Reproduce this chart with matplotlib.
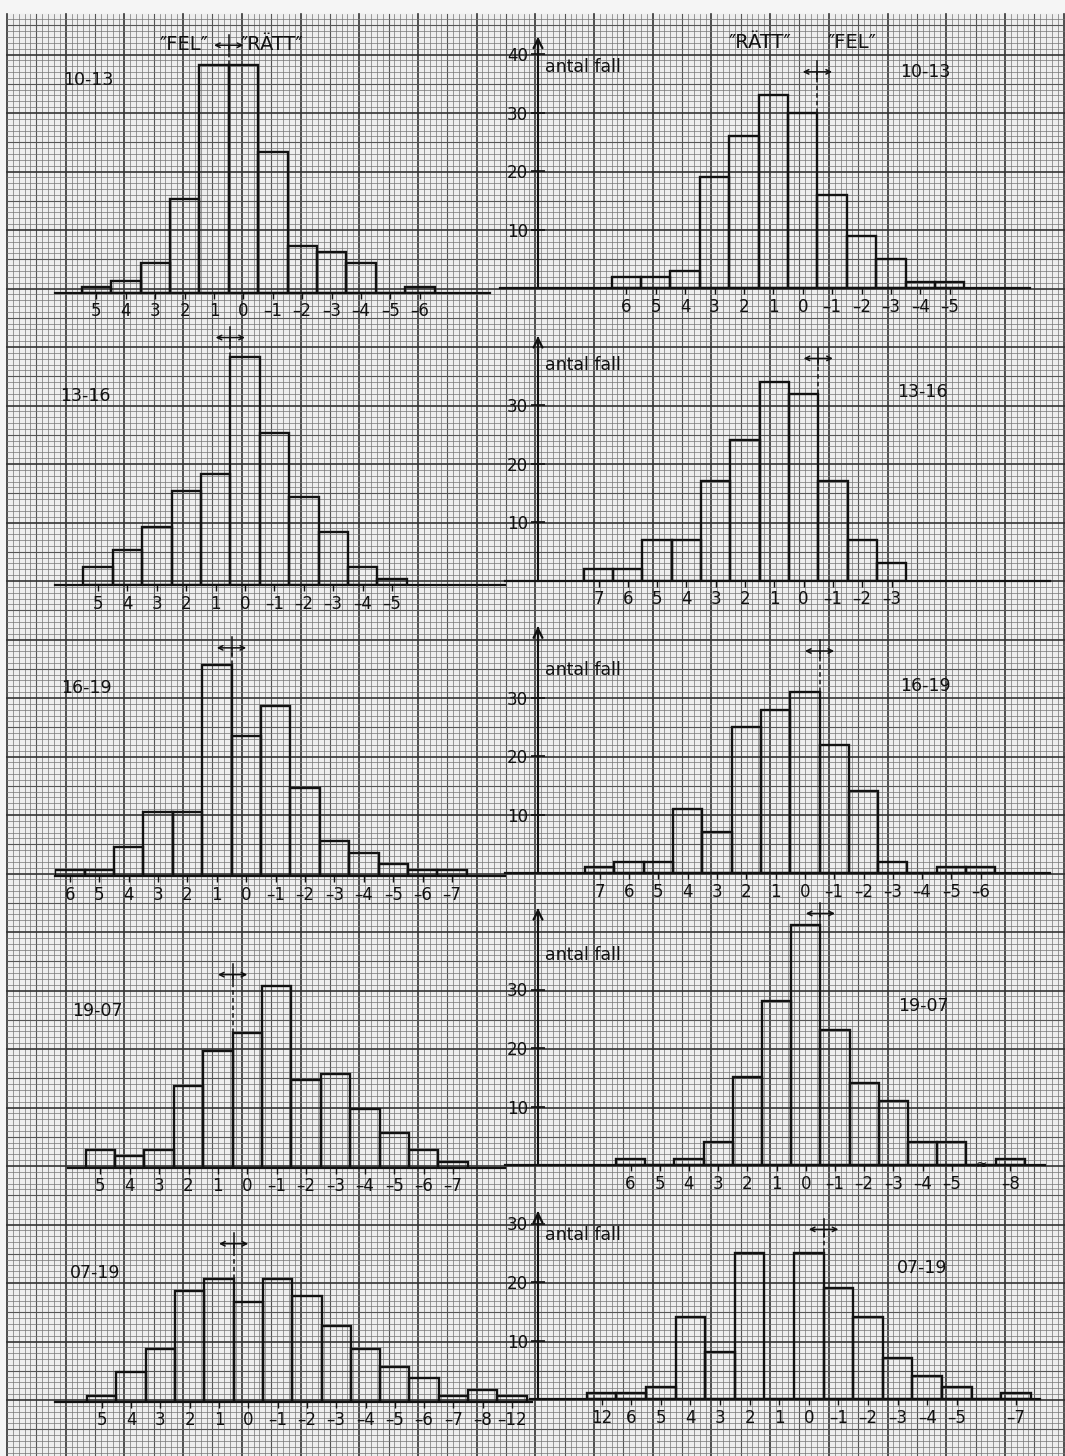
import numpy as np
import matplotlib
matplotlib.use("Agg")
import matplotlib.pyplot as plt

plt.rcParams['font.family'] = ['DejaVu Sans']

W, H = 1065, 1456

# ---- data ----
periods = ["10-13", "13-16", "16-19", "19-07", "07-19"]

# left column, "FEL" <-|-> "RÄTT"
left_labels = [
    ["5", "4", "3", "2", "1", "0", "-1", "-2", "-3", "-4", "-5", "-6"],
    ["5", "4", "3", "2", "1", "0", "-1", "-2", "-3", "-4", "-5"],
    ["6", "5", "4", "3", "2", "1", "0", "-1", "-2", "-3", "-4", "-5", "-6", "-7"],
    ["5", "4", "3", "2", "1", "0", "-1", "-2", "-3", "-4", "-5", "-6", "-7"],
    ["5", "4", "3", "2", "1", "0", "-1", "-2", "-3", "-4", "-5", "-6", "-7", "-8", "-12"],
]
left_counts = [
    [1, 2, 5, 16, 39, 39, 24, 8, 7, 5, 0, 1],
    [3, 6, 10, 16, 19, 39, 26, 15, 9, 3, 1],
    [1, 1, 5, 11, 11, 36, 24, 29, 15, 6, 4, 2, 1, 1],
    [3, 2, 3, 14, 20, 23, 31, 15, 16, 10, 6, 3, 1],
    [1, 5, 9, 19, 21, 17, 21, 18, 13, 9, 6, 4, 1, 2, 1],
]
left_mark_x = [4.5, 4.5, 5.5, 4.5, 4.5]
left_mark_y = [42.3, 42.3, 39.0, 33.0, 27.0]

# right column, "RÄTT"  "FEL"
right_labels = [
    ["6", "5", "4", "3", "2", "1", "0", "-1", "-2", "-3", "-4", "-5"],
    ["7", "6", "5", "4", "3", "2", "1", "0", "-1", "-2", "-3"],
    ["7", "6", "5", "4", "3", "2", "1", "0", "-1", "-2", "-3", "-4", "-5", "-6"],
    ["6", "5", "4", "3", "2", "1", "0", "-1", "-2", "-3", "-4", "-5", "", "-8"],
    ["12", "6", "5", "4", "3", "2", "1", "0", "-1", "-2", "-3", "-4", "-5", "", "-7"],
]
right_counts = [
    [2, 2, 3, 19, 26, 33, 30, 16, 9, 5, 1, 1],
    [2, 2, 7, 7, 17, 24, 34, 32, 17, 7, 3],
    [1, 2, 2, 11, 7, 25, 28, 31, 22, 14, 2, 0, 1, 1],
    [1, 0, 1, 4, 15, 28, 41, 23, 14, 11, 4, 4, 0, 1],
    [1, 1, 2, 14, 8, 25, 0, 25, 19, 14, 7, 4, 2, 0, 1],
]
right_mark_x = [6.5, 7.5, 7.5, 6.5, 7.5]
right_mark_y = [37.0, 38.0, 38.0, 43.0, 29.0]
right_yticks = [[10, 20, 30, 40], [10, 20, 30], [10, 20, 30], [10, 20, 30], [10, 20, 30]]

# ---- layout on the paper (pixels) ----
SY = 5.85          # pixels per count (one small square)
left_x0 = [96.4, 98.0, 69.8, 100.3, 101.8]
left_bw = [29.4, 29.4, 29.4, 29.4, 29.3]
left_base = [292.7, 585.0, 876.0, 1167.7, 1401.7]
left_span = [(55, 490), (55, 505), (55, 505), (68, 505), (55, 532)]
right_x0 = [626.3, 598.5, 599.8, 630.6, 601.6]
right_bw = [29.4, 29.3, 29.3, 29.2, 29.6]
right_base = [288.3, 580.7, 873.3, 1165.0, 1399.0]
right_span = [(500, 1030), (505, 1050), (505, 1050), (505, 1045), (530, 1040)]
right_top = [42.7, 41.5, 41.9, 43.6, 31.8]
AXIS_X = 538
INK = '#111111'

fig = plt.figure(figsize=(W / 100, H / 100), dpi=100)
fig.patch.set_facecolor('#f5f5f5')

# graph paper
bg = fig.add_axes([0, 0, 1, 1])
bg.set_xlim(0, W)
bg.set_ylim(H, 0)
bg.axis('off')
bg.add_patch(plt.Rectangle((7, 14), W, H, color='#eeeeee', zorder=0))


def paper_style(i):
    if i % 10 == 0:
        return 1.2, '#333333'
    if i % 5 == 0:
        return 0.8, '#555555'
    return 0.5, '#747474'


for i, x in enumerate(np.arange(7, W + 1, 5.87)):
    lw, c = paper_style(i)
    bg.plot([x, x], [14, H], color=c, lw=lw, zorder=1)
for i in range(-47, 200):
    y = 288.5 + i * SY
    if y < 14 or y > H:
        continue
    lw, c = paper_style(i)
    bg.plot([7, W], [y, y], color=c, lw=lw, zorder=1)

# headers
hdr = dict(fontsize=14, color=INK, ha='center', va='center')
bg.text(184, 45, '″FEL″', **hdr)
bg.text(272, 45, '″RÄTT″', **hdr)
bg.text(760, 42, '″RÄTT″', **hdr)
bg.text(852, 42, '″FEL″', **hdr)

left_title_xy = [(88, 80), (85, 396), (86, 688), (97, 1011), (95, 1273)]
right_title_xy = [(925, 72), (922, 392), (925, 686), (923, 1006), (922, 1268)]
antal_y = [67, 365, 670, 955, 1235]
for k in range(5):
    bg.text(*left_title_xy[k], periods[k], fontsize=12.5, color=INK, ha='center', va='center')
    bg.text(*right_title_xy[k], periods[k], fontsize=12.5, color=INK, ha='center', va='center')
    bg.text(545, antal_y[k], 'antal fall', fontsize=12.5, color=INK, ha='left', va='center')


def panel(L, R, base, x0, bw, labels, counts, mx, my, yticks=None, top=None):
    ax = fig.add_axes([L / W, 1 - base / H, (R - L) / W, 48 * SY / H])
    ax.patch.set_alpha(0)
    ax.set_xlim((L - x0) / bw, (R - x0) / bw)
    ax.set_ylim(0, 48)
    n = len(counts)
    ax.bar(np.arange(n), counts, width=1, fill=False, edgecolor=INK, lw=1.7, zorder=3)
    for s in ['top', 'right', 'left']:
        ax.spines[s].set_visible(False)
    ax.spines['bottom'].set_linewidth(1.6)
    ax.spines['bottom'].set_color(INK)
    idx = [i for i, t in enumerate(labels) if t]
    ax.set_xticks(idx)
    ax.set_xticklabels([labels[i].replace('-', '\u2013') for i in idx])
    ax.tick_params(axis='x', direction='out', length=4, width=1, colors=INK,
                   labelsize=12, pad=3)
    if yticks is None:
        ax.set_yticks([])
    else:
        xa = (AXIS_X - x0) / bw
        sp = ax.spines['left']
        sp.set_visible(True)
        sp.set_position(('data', xa))
        sp.set_bounds(0, top)
        sp.set_linewidth(1.5)
        sp.set_color(INK)
        ax.set_yticks(yticks)
        ax.tick_params(axis='y', direction='inout', length=10, width=1.2,
                       colors=INK, labelsize=12, pad=2)
        ax.annotate('', xy=(xa, top + 0.3), xytext=(xa, top - 2.5),
                    arrowprops=dict(arrowstyle='->', lw=1.6, color=INK,
                                    mutation_scale=16, shrinkA=0, shrinkB=0))
    # median marker: short cross with a double arrow and a dashed drop line
    lo = max(counts[int(mx - 0.5)], counts[int(mx + 0.5)])
    ax.plot([mx, mx], [lo, my], color=INK, lw=1.1, ls=(0, (3, 2)), zorder=4)
    ax.plot([mx, mx], [my - 1.2, my + 1.8], color=INK, lw=1.1, zorder=4)
    ax.annotate('', xy=(mx - 0.5, my), xytext=(mx + 0.5, my),
                arrowprops=dict(arrowstyle='<->', lw=1.1, color=INK,
                                mutation_scale=8, shrinkA=0, shrinkB=0))
    return ax


for k in range(5):
    panel(*left_span[k], left_base[k], left_x0[k], left_bw[k],
          left_labels[k], left_counts[k], left_mark_x[k], left_mark_y[k])
    ax = panel(*right_span[k], right_base[k], right_x0[k], right_bw[k],
               right_labels[k], right_counts[k], right_mark_x[k], right_mark_y[k],
               yticks=right_yticks[k], top=right_top[k])
    if k == 3:
        ax.text(12, 0, '≈', fontsize=10, color=INK, ha='center', va='center')

fig.savefig('out.png', dpi=100)
